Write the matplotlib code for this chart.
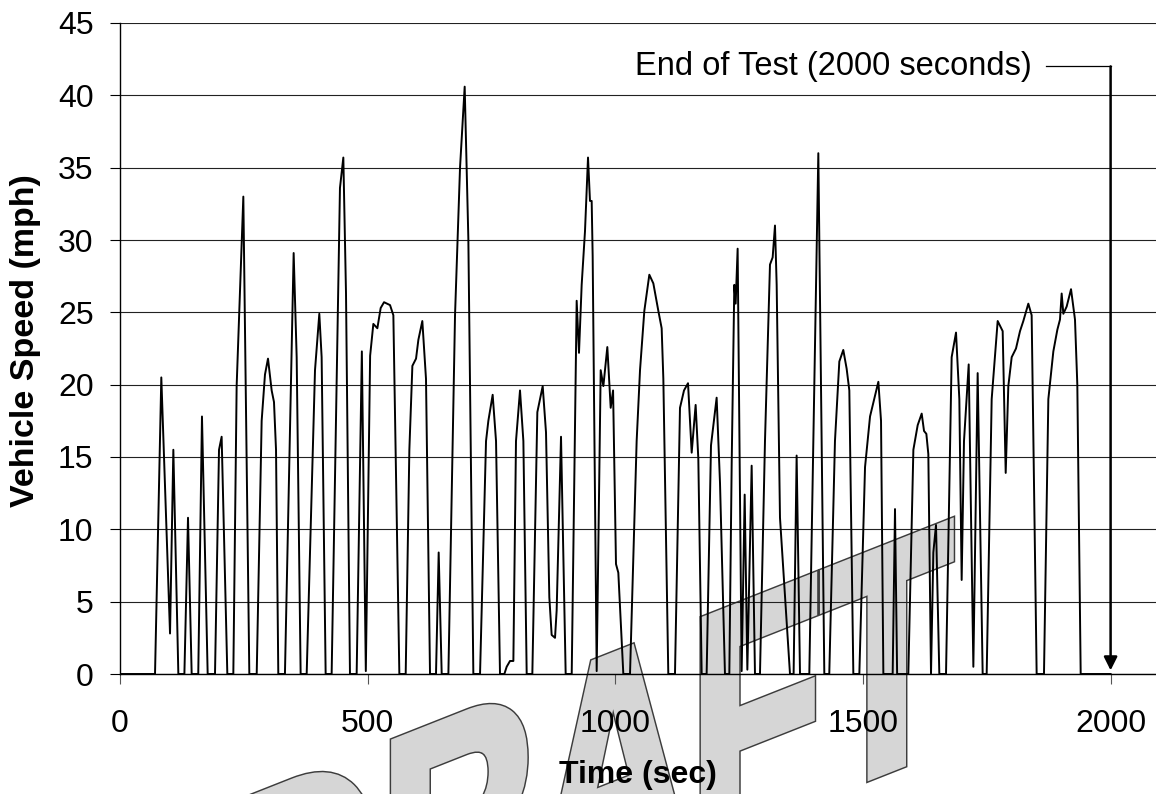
import numpy as np
import matplotlib
matplotlib.use('Agg')
import matplotlib.pyplot as plt
from matplotlib.textpath import TextPath
from matplotlib.font_manager import FontProperties
from matplotlib.patches import PathPatch
from matplotlib.path import Path

plt.rcParams['font.family'] = ['Liberation Sans', 'DejaVu Sans']

# speed trace (time in s, speed in mph)
time_s = [0, 70.7,
          83.4, 101, 107.7, 117.8, 130,
          137.3, 144.7, 158,
          165.5, 177, 191.8,
          199.9, 205.2, 216.7, 228.8,
          235.5, 249, 261.1, 276,
          286, 292.7, 298.8, 306.2, 310.9, 315, 319.6, 333,
          350.6, 356.7, 364.7, 376.9,
          393.7, 402.4, 407.1, 415.2, 427.3,
          444.1, 450.9, 456.3, 464.3, 477.8,
          488.3, 496.3,
          505, 511.5, 519.6, 526.3, 533.1, 545.2, 551.9, 564, 576.8,
          584.2, 590.3, 597.7, 602.4, 610.4, 617.8, 625.9, 638,
          643.4, 649.5, 663,
          676.4, 686.5, 695.9, 703.3, 713.4, 726.9,
          739, 743.7, 752.4, 759.2, 767.2, 776, 780.7, 787.4, 794.2,
          799.5, 807.6, 814.4, 821.1, 832.5,
          842.6, 853.4, 860.1, 866.8, 871.5, 878.3, 881.6, 890.4, 899.8, 912,
          922, 926.7, 932.1, 938.8, 944.9, 948.9, 952.3, 954.3, 962.4,
          970.5, 975.9, 983.9, 990.7, 995.5, 1001.4, 1006.1, 1016.2, 1029.7,
          1043.1, 1049.9, 1058.6, 1068.7, 1076.8, 1086.9, 1093.6, 1097, 1107, 1120.5,
          1130.6, 1138.7, 1146.8, 1154.2, 1162.2, 1167.6, 1174.4, 1184.4,
          1193.2, 1204.6, 1211.4, 1221.4, 1230.2,
          1235, 1240.3, 1243, 1247, 1255.1, 1261.2, 1266.6, 1275.3, 1282, 1292.1,
          1302.2, 1312.3, 1317.7, 1322.4, 1325.8, 1332.5, 1337.9, 1340.6, 1352.7, 1360,
          1366.1, 1372.9, 1391.7,
          1409.9, 1422, 1432,
          1443.5, 1452.3, 1460.3, 1467.1, 1472.5, 1480.6, 1492.7,
          1504.2, 1514.3, 1531.1, 1536.5, 1541.2, 1560,
          1564.7, 1569, 1591.6,
          1601.8, 1610.5, 1618.6, 1623.3, 1628, 1632, 1637.4,
          1642.1, 1647.5, 1654.2, 1667.7,
          1679.1, 1687.9, 1694.6, 1699.3, 1704, 1713.5, 1722.9, 1731.6, 1741.7, 1749.8,
          1759.9, 1772, 1782.1, 1788.2, 1793.5, 1800.3, 1809, 1817.1, 1823.8, 1833.9, 1840.6, 1850.7, 1865.5,
          1874.3, 1884.4, 1892.5, 1897.8, 1901.2, 1904.6, 1911.3, 1920.1, 1928.1, 1932.8, 1939.6, 2000]

speed_mph = [0, 0,
             20.5, 2.8, 15.5, 0, 0,
             10.8, 0, 0,
             17.8, 0, 0,
             15.5, 16.4, 0, 0,
             19.9, 33.0, 0, 0,
             17.5, 20.7, 21.8, 19.6, 18.8, 15.5, 0, 0,
             29.1, 21.9, 0, 0,
             21.0, 24.9, 21.9, 0, 0,
             33.6, 35.7, 26.3, 0, 0,
             22.3, 0.2,
             22.0, 24.2, 23.9, 25.3, 25.7, 25.5, 24.8, 0, 0,
             15.5, 21.3, 21.8, 23.1, 24.4, 20.4, 0, 0,
             8.4, 0, 0,
             24.8, 35.0, 40.6, 30.1, 0, 0,
             16.1, 17.5, 19.3, 16.1, 0, 0, 0.5, 0.9, 0.9,
             16.1, 19.6, 16.1, 0, 0,
             18.1, 19.9, 16.7, 5.3, 2.7, 2.5, 4.4, 16.4, 0, 0,
             25.8, 22.2, 26.9, 30.6, 35.7, 32.7, 32.7, 28.9, 0.2,
             21.0, 19.9, 22.6, 18.4, 19.6, 7.6, 7.0, 0, 0,
             16.1, 21.0, 25.1, 27.6, 27.0, 25.1, 23.9, 20.4, 0, 0,
             18.4, 19.6, 20.1, 15.3, 18.6, 14.9, 0, 0,
             15.8, 19.1, 13.2, 0, 0,
             14.6, 26.9, 25.6, 29.4, 0.2, 12.4, 0.3, 14.4, 0, 0,
             16.1, 28.3, 28.8, 31.0, 26.9, 10.8, 7.9, 6.5, 0, 0,
             15.1, 0, 0,
             36.0, 0, 0,
             16.1, 21.6, 22.4, 21.1, 19.6, 0, 0,
             14.3, 17.8, 20.2, 17.5, 0, 0,
             11.4, 0, 0,
             15.5, 17.2, 18.0, 16.8, 16.6, 15.2, 0,
             8.4, 10.3, 0, 0,
             21.9, 23.6, 19.0, 6.5, 16.1, 21.4, 0.5, 20.8, 0, 0,
             19.0, 24.4, 23.7, 13.9, 19.9, 21.9, 22.5, 23.7, 24.4, 25.6, 24.8, 0, 0,
             19.0, 22.3, 23.8, 24.5, 26.3, 24.9, 25.4, 26.6, 24.5, 20.0, 0, 0]

y_ticks = list(range(0, 50, 5))
x_ticks = [0, 500, 1000, 1500, 2000]
end_time = 2000
end_label = 'End of Test (2000 seconds)'
end_label_y = 42

W, H = 1156, 794
fig = plt.figure(figsize=(W / 100, H / 100), dpi=100)
ax = fig.add_axes([120 / W, 1 - 674 / H, (W - 120) / W, (674 - 23) / H])
ax.set_facecolor('none')

# DRAFT watermark: heavy letters slanted upward, drawn behind the axes
tp = TextPath((0, 0), 'DRAFT', size=100,
              prop=FontProperties(family='Liberation Sans', weight='bold'))
ext = tp.get_extents()
v = tp.vertices.copy()
x_left, x_right, cap_px, slope = 240, 950, 222, 0.395
px = x_left + (v[:, 0] - ext.x0) * (x_right - x_left) / (ext.x1 - ext.x0)
py = 778 - slope * (px - 866) - v[:, 1] * cap_px / ext.y1
wm = Path(np.column_stack([px / W, 1 - py / H]), tp.codes)
# wide dark stroke underneath, lighter stroke on top -> bolder letters with thin outline
fig.add_artist(PathPatch(wm, transform=fig.transFigure, facecolor='#d6d6d6',
                         edgecolor='#3c3c3c', lw=7.5, joinstyle='miter', zorder=-2))
fig.add_artist(PathPatch(wm, transform=fig.transFigure, facecolor='#d6d6d6',
                         edgecolor='#d6d6d6', lw=5.4, joinstyle='miter', zorder=-1))

ax.plot(time_s, speed_mph, color='black', lw=1.4, zorder=3)

ax.set_xlim(0, (W - 120) / 0.4953)
ax.set_ylim(0, 45)
ax.set_yticks(y_ticks)
ax.set_xticks(x_ticks)
ax.grid(axis='y', color='#222222', lw=0.8)
ax.set_axisbelow(True)
for s in ['top', 'right']:
    ax.spines[s].set_visible(False)
ax.spines['left'].set_linewidth(1.0)
ax.spines['bottom'].set_linewidth(1.0)
ax.tick_params(axis='y', length=7, width=0.8, pad=12, labelsize=23)
ax.tick_params(axis='x', length=7, width=0.8, pad=18, labelsize=23, color='#555555')

ax.set_xlabel('Time (sec)', fontsize=23, fontweight='bold')
ax.set_ylabel('Vehicle Speed (mph)', fontsize=24.5, fontweight='bold')
ax.xaxis.label.set_va('center')
ax.yaxis.label.set_va('center')
ax.xaxis.set_label_coords(0.5, -(775 - 674) / 651)
ax.yaxis.set_label_coords(-(120 - 26) / 1036, (674 - 341) / 651)

# end-of-test callout
ax.text(1840, end_label_y, end_label, fontsize=23.5, ha='right', va='center')
ax.plot([1870, end_time], [end_label_y, end_label_y], color='black', lw=0.9)
ax.annotate('', xy=(end_time, 0.25), xytext=(end_time, end_label_y),
            arrowprops=dict(arrowstyle='-|>', color='black', lw=1.8,
                            mutation_scale=20, shrinkA=0, shrinkB=0))

fig.savefig('out.png', dpi=100)
